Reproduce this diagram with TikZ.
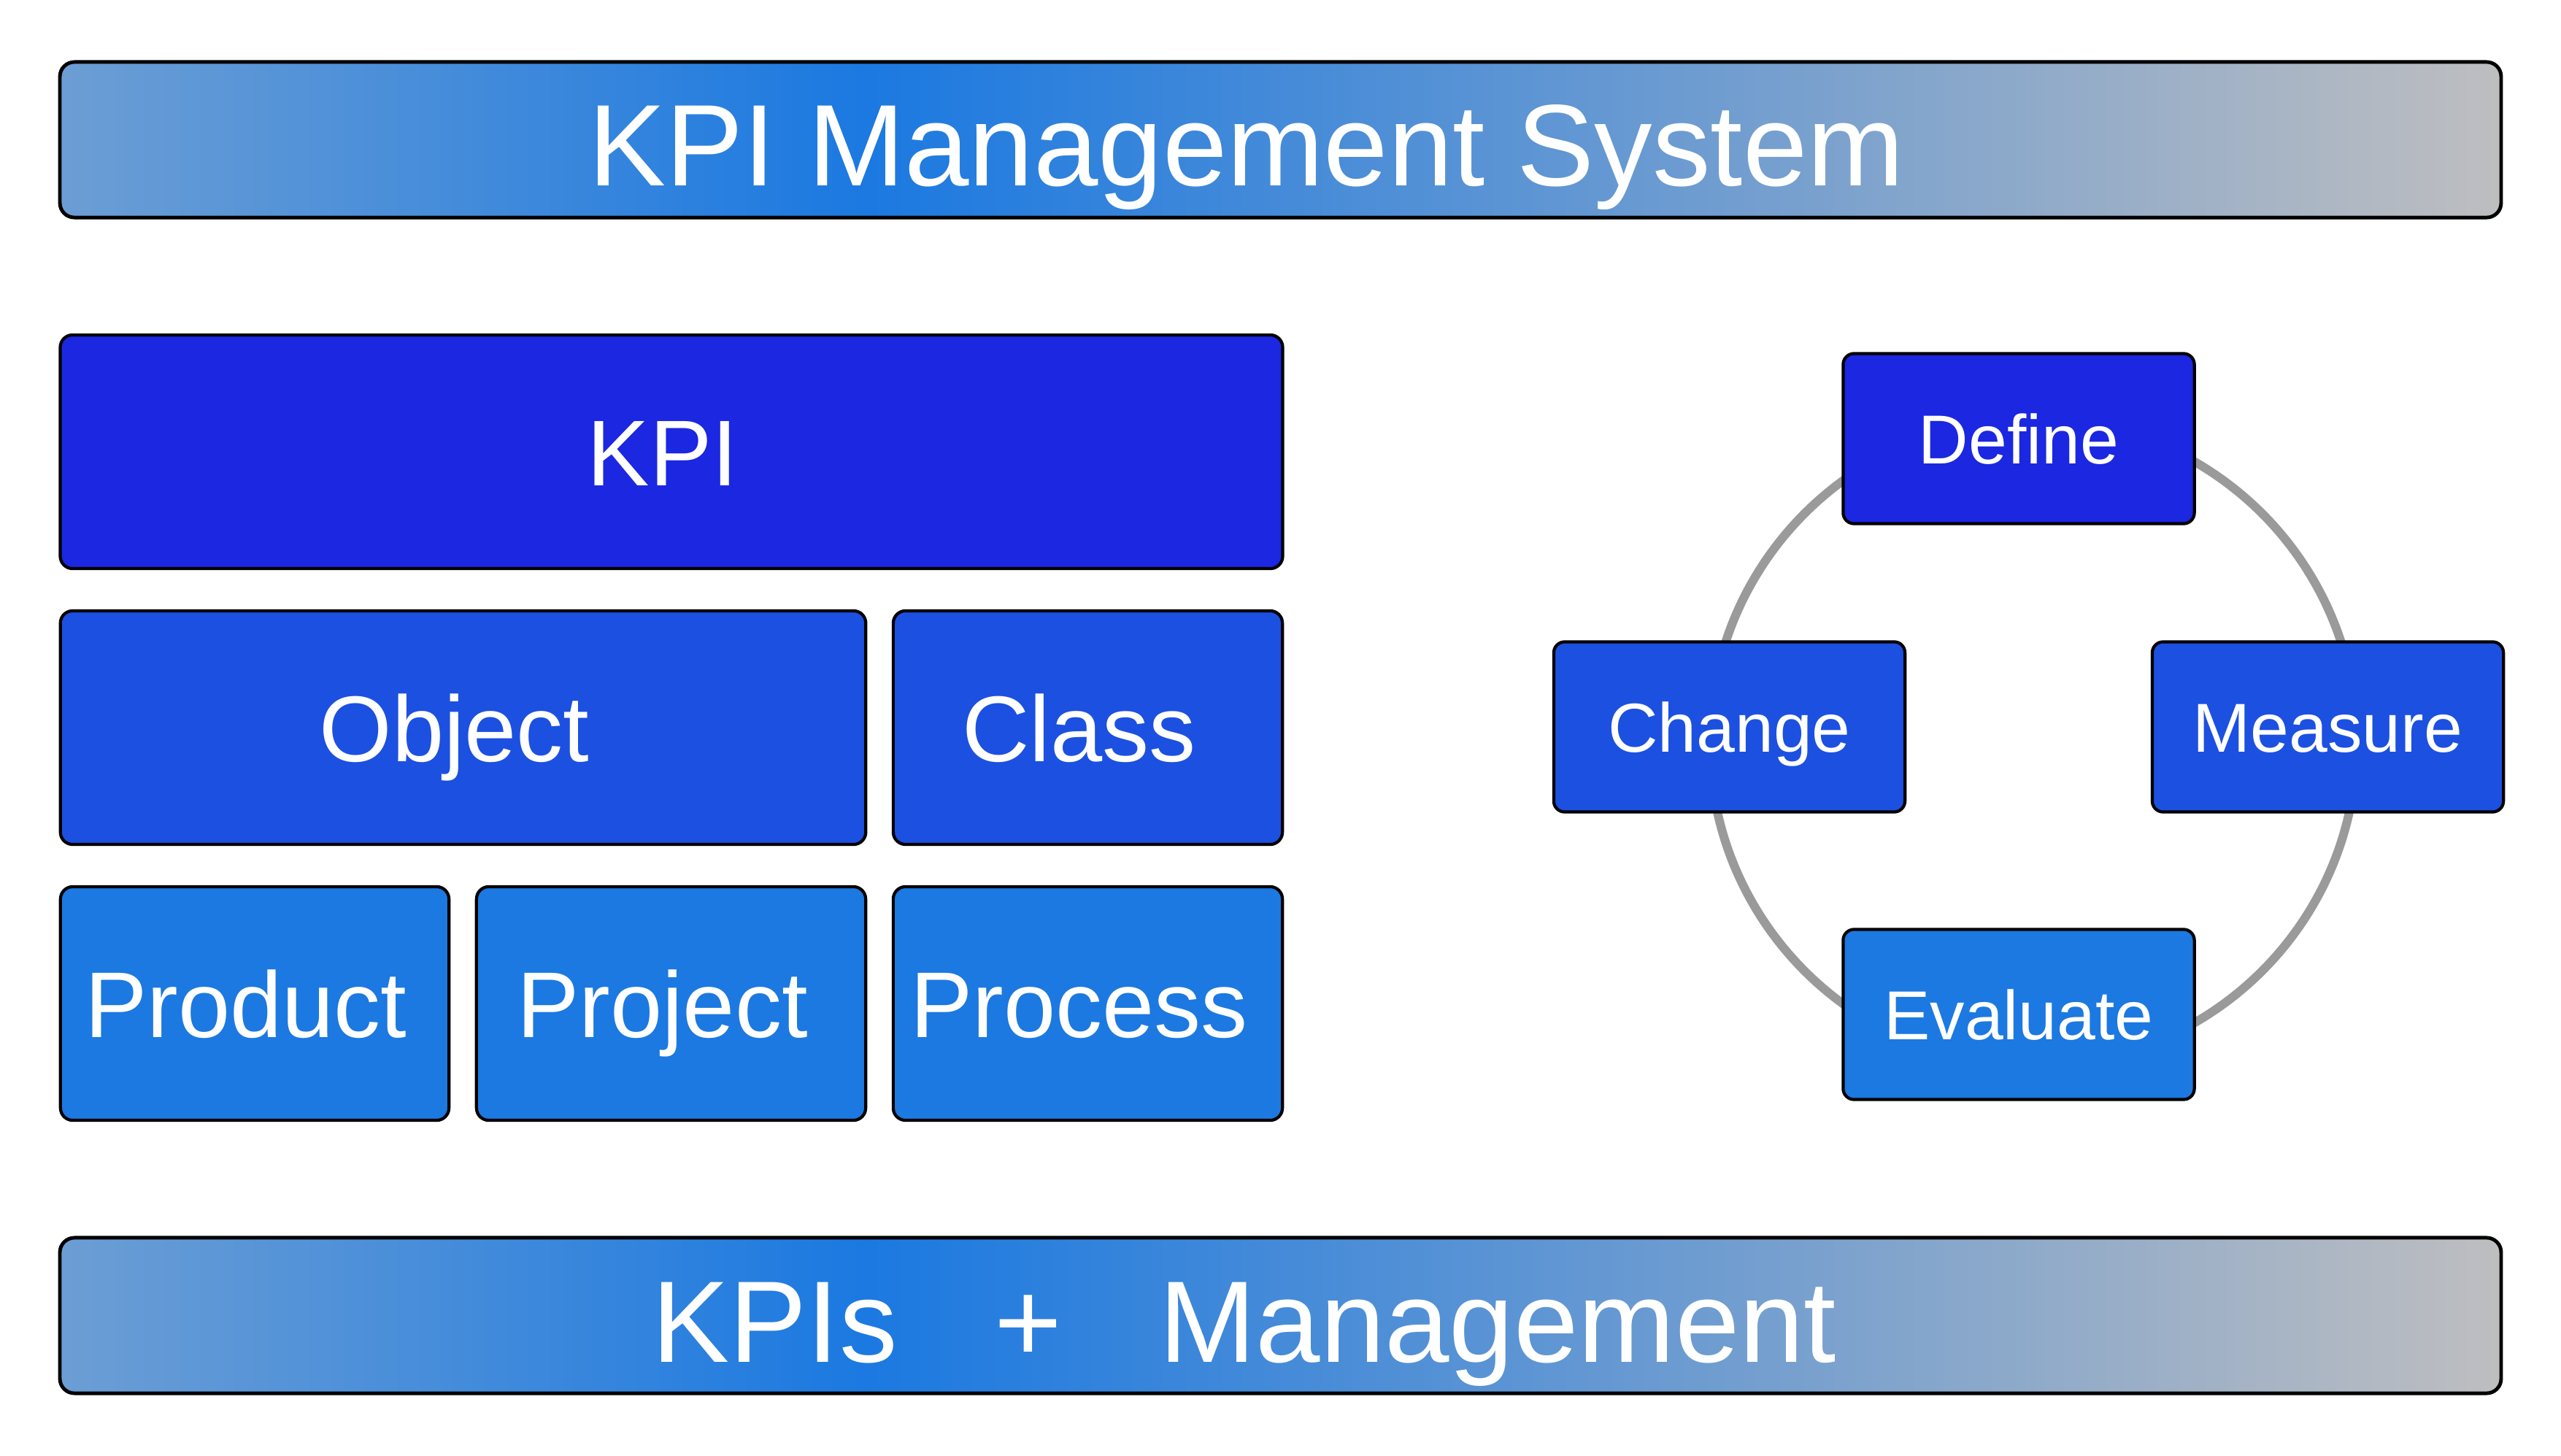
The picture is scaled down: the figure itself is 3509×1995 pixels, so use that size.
\documentclass[tikz,border=0pt]{standalone}
\usepackage{fontspec}
\setmainfont{Liberation Sans}
\definecolor{kpiblue}{RGB}{27,39,225}
\definecolor{midblue}{RGB}{28,80,225}
\definecolor{lightblue}{RGB}{27,121,225}
\definecolor{barL}{RGB}{108,158,212}
\definecolor{barM}{RGB}{27,121,225}
\definecolor{barR}{RGB}{190,190,192}
\definecolor{ringgray}{RGB}{154,154,154}
\pgfdeclarehorizontalshading{barshade}{100bp}{color(0bp)=(barL); color(25bp)=(barL); color(41.5bp)=(barM); color(75bp)=(barR); color(100bp)=(barR)}
\begin{document}
\begin{tikzpicture}[x=0.01cm,y=-0.01cm,
  bar/.style={draw=black, line width=1.4pt, rounded corners=0.2cm,
    minimum width=33.43cm, minimum height=2.13cm, inner sep=0pt,
    shading=barshade, shading angle=0},
  bartext/.style={text=white, font=\fontsize{45.2pt}{54pt}\selectfont,
    text height=1.14cm, text depth=0pt, inner sep=0pt},
  blk/.style={draw=black, line width=1.2pt, rounded corners=0.17cm,
    minimum height=3.2cm, inner sep=0pt, text=white,
    font=\fontsize{36.4pt}{44pt}\selectfont, text height=0.92cm, text depth=0pt,
    execute at end node={\hspace*{0.24cm}}},
  cyc/.style={draw=black, line width=1.2pt, rounded corners=0.15cm,
    minimum width=4.81cm, minimum height=2.33cm, inner sep=0pt, text=white,
    font=\fontsize{27pt}{32pt}\selectfont, text height=0.68cm, text depth=0pt},
  ring/.style={draw=ringgray, line width=3.4pt}
]
\useasboundingbox (0,0) rectangle (3509,1995);

% top bar
\node[bar] (top) at (1754.5,191.5) {};
\node[bartext] (toptext) at (1708,197) {KPI Management System};

% bottom bar
\node[bar] (bottom) at (1754.5,1802.5) {};
\node[bartext] (bottomtext) at (1705,1809) {KPIs\hspace{1.33cm}+\hspace{1.33cm}Management};

% left blocks
\node[blk, fill=kpiblue, minimum width=16.74cm] (kpi) at (920,619) {KPI};
\node[blk, fill=midblue, minimum width=11.03cm] (object) at (634.5,997) {Object};
\node[blk, fill=midblue, minimum width=5.33cm] (class) at (1490.5,997) {Class};
\node[blk, fill=lightblue, minimum width=5.32cm] (product) at (349,1375) {Product};
\node[blk, fill=lightblue, minimum width=5.33cm] (project) at (919.5,1375) {Project};
\node[blk, fill=lightblue, minimum width=5.33cm] (process) at (1490.5,1375) {Process};

% cycle ring
\coordinate (ringc) at (2786,1017);
\draw[ring] (ringc) circle[radius=4.43cm];

% cycle boxes
\node[cyc, fill=kpiblue] (define) at (2766,601) {Define};
\node[cyc, fill=midblue] (change) at (2369.5,996) {Change};
\node[cyc, fill=midblue] (measure) at (3189.5,996) {Measure};
\node[cyc, fill=lightblue] (evaluate) at (2766,1390) {Evaluate};
\end{tikzpicture}
\end{document}
